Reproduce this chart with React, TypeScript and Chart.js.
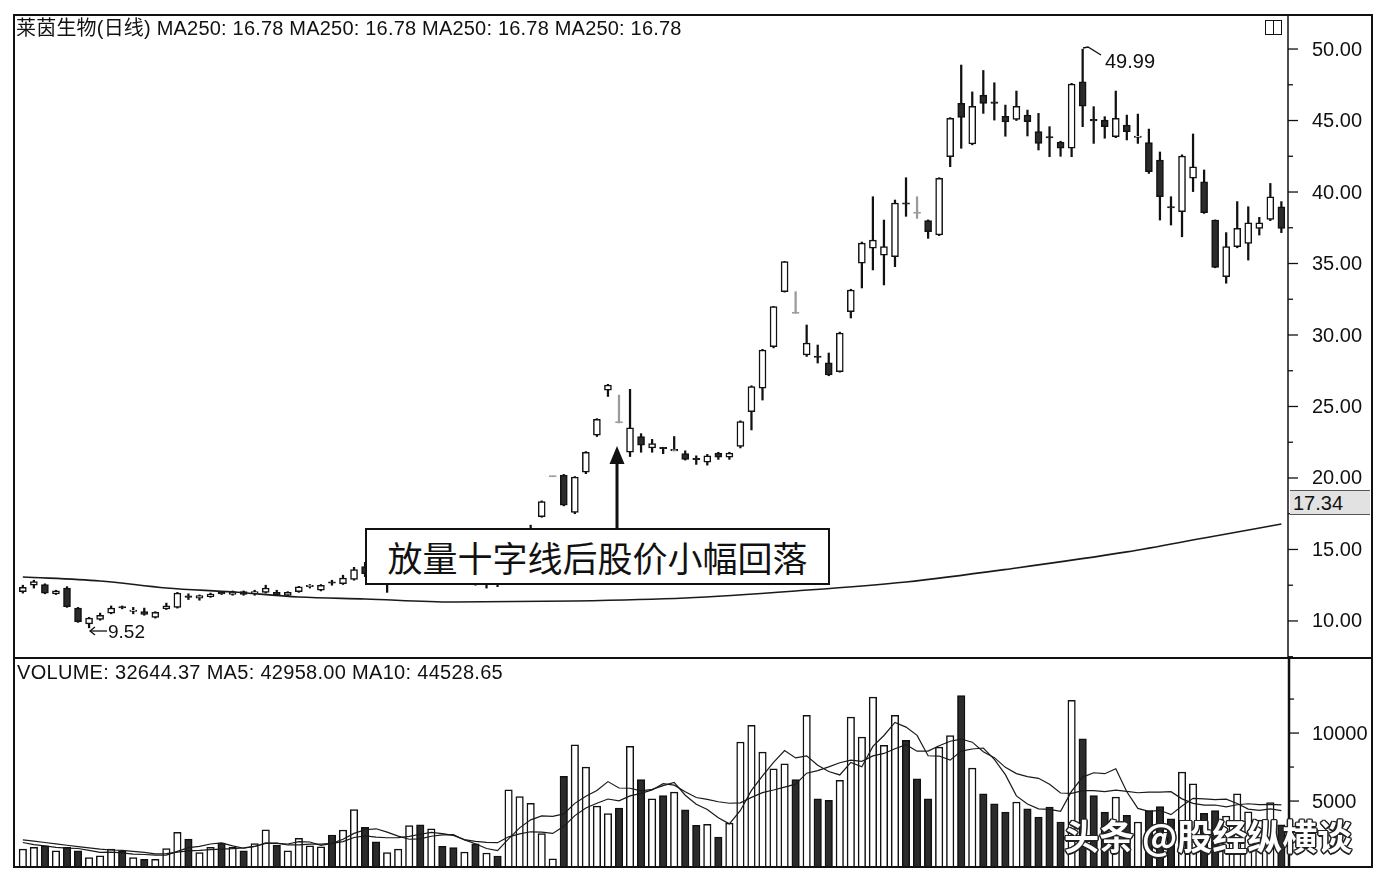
import React, { useEffect, useRef } from "react";
import { Chart, registerables } from "chart.js";
Chart.register(...registerables);

// ---------- data ----------
const dayIndex: number[] = Array.from({ length: 115 }, (_, i) => i);

const opens = [
  12.05, 12.5, 12.55, 11.9, 12.3, 10.9, 9.8, 10.1, 10.55, 11.0,
  10.7, 10.65, 10.25, 10.85, 10.95, 11.72, 11.6, 11.7, 11.97, 11.85,
  12.05, 11.98, 12.0, 12.0, 11.78, 12.05, 12.43, 12.15, 12.72, 12.6,
  12.9, 13.8, 13.3, 12.7, 13.0, 13.3, 14.0, 13.5, 14.0, 13.6,
  13.2, 13.4, 12.9, 13.1, 12.9, 14.1, 15.4, 17.3, 20.1, 20.2,
  17.6, 20.4, 23.0, 26.15, 23.92, 21.8, 22.9, 22.1, 22.12, 21.93,
  21.7, 21.35, 21.1, 21.75, 21.45, 22.2, 24.64, 26.29, 29.18, 33.03,
  31.58, 28.6, 28.5, 28.06, 27.43, 31.63, 35.03, 36.08, 35.59, 35.48,
  39.22, 38.57, 38.0, 37.0, 42.47, 46.2, 43.36, 46.78, 46.27, 45.3,
  45.08, 45.38, 44.22, 43.85, 43.5, 43.06, 47.7, 45.05, 45.03, 43.87,
  44.68, 43.85, 43.45, 42.24, 38.95, 38.62, 40.96, 40.72, 38.04, 34.08,
  36.18, 36.41, 37.46, 38.09, 38.97,
];
const highs = [
  12.5, 12.85, 12.6, 12.15, 12.4, 10.95, 10.25, 10.55, 11.05, 11.05,
  10.95, 10.9, 10.65, 11.25, 12.0, 11.9, 11.82, 11.95, 12.05, 12.1,
  12.1, 12.15, 12.5, 12.15, 12.05, 12.42, 12.55, 12.55, 12.85, 13.2,
  13.75, 14.1, 13.5, 13.2, 13.5, 14.3, 14.4, 14.3, 14.1, 13.7,
  13.6, 13.5, 13.3, 13.2, 14.3, 15.6, 16.7, 18.4, 20.14, 20.25,
  20.1, 21.85, 24.15, 26.55, 25.8, 26.2, 23.1, 22.7, 22.15, 22.9,
  21.9, 21.55, 21.65, 21.8, 21.8, 24.0, 26.45, 29.0, 32.0, 35.15,
  33.03, 30.7, 29.3, 28.74, 30.2, 33.2, 36.5, 39.67, 38.04, 39.44,
  41.0, 39.67, 38.05, 41.0, 45.2, 48.88, 47.0, 48.5, 47.64, 46.08,
  47.06, 45.73, 45.5, 44.57, 43.55, 47.6, 49.99, 45.97, 45.27, 47.06,
  45.38, 45.45, 44.4, 42.8, 39.67, 42.6, 44.06, 41.54, 38.05, 37.16,
  39.33, 38.97, 38.23, 40.6, 39.33,
];
const lows = [
  11.95, 12.3, 11.9, 11.85, 10.95, 9.9, 9.52, 10.05, 10.5, 10.85,
  10.5, 10.4, 10.2, 10.8, 10.9, 11.5, 11.45, 11.65, 11.85, 11.8,
  11.8, 11.8, 11.95, 11.8, 11.72, 12.0, 12.3, 12.1, 12.5, 12.55,
  12.85, 13.1, 12.7, 12.0, 12.9, 13.2, 13.3, 13.4, 13.4, 13.0,
  13.0, 12.5, 12.3, 12.4, 12.8, 14.0, 15.3, 17.25, 20.1, 18.05,
  17.5, 20.3, 22.9, 25.7, 23.85, 21.5, 21.8, 21.8, 21.7, 21.9,
  21.25, 20.95, 20.9, 21.3, 21.3, 22.1, 23.36, 25.45, 29.1, 33.0,
  31.52, 28.5, 28.04, 27.15, 27.4, 31.19, 33.29, 34.55, 33.5, 34.78,
  38.3, 38.15, 36.76, 36.95, 41.77, 43.06, 43.3, 45.5, 45.03, 43.9,
  45.0, 43.92, 42.94, 42.47, 42.5, 42.47, 44.57, 43.4, 43.76, 43.8,
  43.64, 43.4, 41.3, 38.04, 37.69, 36.87, 40.03, 38.5, 34.7, 33.62,
  36.1, 35.24, 36.99, 38.0, 37.16,
];
const closes = [
  12.35, 12.75, 11.95, 12.1, 11.0, 9.95, 10.2, 10.4, 10.9, 10.92,
  10.74, 10.45, 10.6, 11.05, 11.95, 11.68, 11.78, 11.88, 11.93, 12.05,
  11.85, 12.02, 12.3, 11.82, 12.0, 12.38, 12.47, 12.5, 12.66, 13.0,
  13.6, 13.3, 12.9, 13.0, 13.3, 14.0, 13.5, 14.0, 13.6, 13.2,
  13.4, 13.0, 13.1, 12.8, 14.1, 15.4, 16.4, 18.35, 20.14, 18.1,
  20.07, 21.8, 24.1, 26.5, 23.88, 23.5, 22.3, 22.4, 22.08, 21.97,
  21.3, 21.3, 21.55, 21.45, 21.75, 23.94, 26.4, 28.95, 31.98, 35.13,
  31.54, 29.44, 28.46, 27.2, 30.14, 33.15, 36.43, 36.64, 36.18, 39.23,
  39.18, 38.53, 37.23, 40.96, 45.15, 45.22, 46.0, 46.2, 46.23, 44.9,
  46.0, 44.92, 43.4, 43.81, 43.06, 47.55, 46.0, 45.01, 44.57, 45.15,
  44.22, 43.89, 41.42, 39.67, 38.91, 42.52, 41.77, 38.55, 34.73, 36.18,
  37.46, 37.85, 37.85, 39.67, 37.46,
];
// candles printed as thin grey marks in the reference
const greyCandles = [48, 54, 70, 81];

const volumes = [
  1460, 1590, 1710, 1340, 1590, 1340, 850, 970, 1460, 1340,
  850, 720, 720, 1510, 2700, 2200, 1210, 1590, 1900, 1590,
  1340, 1880, 2890, 1760, 1340, 2250, 1710, 1630, 2500, 2870,
  4370, 3070, 2010, 1210, 1460, 3190, 3250, 2960, 1670, 1570,
  1250, 1860, 1180, 960, 5830, 5320, 4830, 2600, 760, 6810,
  9140, 7500, 4630, 4070, 4480, 9020, 6570, 5170, 5410, 5660,
  4360, 3210, 3280, 2350, 3380, 9340, 10560, 8600, 7370, 7740,
  6570, 11300, 5170, 5050, 6520, 11170, 9700, 12640, 9090, 11300,
  9460, 6640, 5170, 8970, 9820, 12760, 7420, 5540, 4800, 4190,
  4930, 4430, 3820, 4560, 3460, 12400, 9580, 5410, 4190, 5290,
  3950, 3460, 4300, 4600, 3700, 7130, 6270, 4100, 4300, 3900,
  5540, 4200, 3600, 4880, 3260,
];
const volMA5 = [
  1950, 1800, 1700, 1600, 1540, 1510, 1370, 1220, 1240, 1190,
  1090, 1070, 1020, 1030, 1300, 1570, 1670, 1840, 1920, 1700,
  1530, 1660, 1920, 1890, 1840, 2020, 1990, 1740, 1890, 2190,
  2620, 2890, 2960, 2710, 2420, 2190, 2220, 2410, 2510, 2530,
  2140, 1860, 1510, 1360, 2220, 3030, 3620, 3910, 3870, 4060,
  4830, 5360, 5770, 6430, 5960, 5940, 5750, 5860, 6130, 6370,
  5430, 4760, 4380, 3770, 3320, 4310, 5780, 6850, 7850, 8720,
  8170, 8320, 7630, 7170, 6920, 7840, 7520, 9020, 9820, 10780,
  10440, 9830, 8330, 8310, 8010, 8670, 8830, 8900, 8070, 6940,
  5380, 4780, 4430, 4390, 4240, 5730, 6760, 7080, 7010, 7370,
  5680, 4460, 4240, 4320, 4000, 4640, 5200, 5160, 5100, 5140,
  4820, 4410, 4310, 4420, 4300,
];
const volMA10 = [
  2150, 2050, 1950, 1850, 1750, 1650, 1560, 1470, 1400, 1370,
  1300, 1220, 1120, 1140, 1250, 1330, 1370, 1430, 1470, 1500,
  1550, 1660, 1880, 1910, 1770, 1780, 1830, 1830, 1890, 2020,
  2320, 2440, 2350, 2300, 2310, 2400, 2560, 2690, 2610, 2480,
  2160, 2040, 1960, 1940, 2370, 2590, 2740, 2710, 2620, 3140,
  3930, 4490, 4840, 5150, 5010, 5380, 5560, 5820, 6280, 6170,
  5690, 5260, 5120, 4950, 4840, 4870, 5270, 5620, 5810, 6020,
  6240, 7050, 7240, 7510, 7820, 8010, 7920, 8320, 8500, 8850,
  9140, 8670, 8670, 9070, 9400, 9560, 9330, 8620, 8190, 7480,
  7020, 6800, 6670, 6230, 5590, 5560, 5770, 5760, 5700, 5810,
  5710, 5610, 5660, 5660, 5690, 5160, 4830, 4700, 4710, 4570,
  4730, 4800, 4730, 4760, 4720,
];
// MA250 read at these candles
const ma250Index = [0, 7, 13, 19, 25, 31, 39, 50, 60, 70, 80, 90, 100, 107, 114];
const ma250Value = [13.08, 12.8, 12.31, 12.03, 11.68, 11.54, 11.33, 11.4, 11.61, 12.1, 12.73, 13.71, 14.83, 15.8, 16.78];

const priceTickValues = [7.5, 10, 12.5, 15, 17.5, 20, 22.5, 25, 27.5, 30, 32.5, 35, 37.5, 40, 42.5, 45, 47.5, 50];
const priceLabelValues = [10, 15, 20, 25, 30, 35, 40, 45, 50];
const volTickValues = [2500, 5000, 7500, 10000, 12500];
const volLabelValues = [5000, 10000];

// ---------- styling ----------
const W = 1384;
const H = 882;
const AXIS_W = 84;
const FONT = "'Liberation Sans', Arial, 'Noto Sans CJK SC', sans-serif";
const INK = "#111";
const DARK = "#2b2b2b";
const GREY = "#9a9a9a";
const MAJOR_TICK = 10;
const MINOR_TICK = 5;
const LABEL_X = 24;
const AXIS_FONT = 20;

const framePlugin = {
  id: "frame",
  afterDraw(chart: any) {
    const { ctx, chartArea, scales } = chart;
    const yP = scales.y;
    const yV = scales.yv;
    const L = chartArea.left;
    const R = chartArea.right;
    const T = chartArea.top;
    const B = chartArea.bottom;
    const OR = R + AXIS_W;
    ctx.save();
    ctx.strokeStyle = INK;
    ctx.lineWidth = 2;
    ctx.strokeRect(L, T, OR - L, B - T);
    ctx.beginPath();
    ctx.lineWidth = 1.5;
    ctx.moveTo(R, T);
    ctx.lineTo(R, yP.bottom);
    ctx.stroke();
    ctx.beginPath();
    ctx.lineWidth = 2.5;
    ctx.moveTo(R + 1, yV.top);
    ctx.lineTo(R + 1, B);
    ctx.stroke();
    ctx.beginPath();
    ctx.lineWidth = 2;
    ctx.moveTo(L, yP.bottom);
    ctx.lineTo(OR, yP.bottom);
    ctx.stroke();

    // axis tick marks and labels, placed through the chart's scales
    ctx.lineWidth = 1.3;
    ctx.fillStyle = INK;
    ctx.font = `${AXIS_FONT}px ${FONT}`;
    ctx.textBaseline = "middle";
    ctx.textAlign = "left";
    const drawAxis = (scale: any, ticks: number[], labels: number[], fmt: (v: number) => string, x0: number) => {
      for (const v of ticks) {
        const py = scale.getPixelForValue(v);
        const major = labels.includes(v);
        ctx.beginPath();
        ctx.moveTo(x0, py);
        ctx.lineTo(x0 + (major ? MAJOR_TICK : MINOR_TICK), py);
        ctx.stroke();
        if (major) ctx.fillText(fmt(v), R + LABEL_X, py + 1);
      }
    };
    drawAxis(yP, priceTickValues, priceLabelValues, (v) => v.toFixed(2), R);
    drawAxis(yV, volTickValues, volLabelValues, (v) => String(v), R + 1);
    ctx.restore();
  },
};

const fitAxis = (s: any) => {
  s.width = AXIS_W;
  s.paddingTop = 0;
  s.paddingBottom = 0;
};

export default function App() {
  const canvasRef = useRef<HTMLCanvasElement | null>(null);

  useEffect(() => {
    const canvas = canvasRef.current;
    if (!canvas) return;
    const isGrey = (i: number) => greyCandles.includes(i);
    const isDown = (i: number) => closes[i] < opens[i];

    const wickData = dayIndex.map((i) => ({ x: i, y: [lows[i], highs[i]] }));
    const bodyData = dayIndex.map((i) => {
      let a = opens[i];
      let b = closes[i];
      if (Math.abs(b - a) < 0.1) {
        const m = (a + b) / 2;
        a = m - 0.05;
        b = m + 0.05;
      }
      return { x: i, y: [a, b] };
    });
    const volData = dayIndex.map((i) => ({ x: i, y: volumes[i] }));

    const chart = new Chart(canvas, {
      type: "bar",
      data: {
        datasets: [
          {
            type: "bar",
            label: "wick",
            data: wickData as any,
            yAxisID: "y",
            xAxisID: "x",
            grouped: false,
            barThickness: 1.6,
            backgroundColor: dayIndex.map((i) => (isGrey(i) ? GREY : INK)),
            borderWidth: 0,
            order: 4,
          },
          {
            type: "bar",
            label: "body",
            data: bodyData as any,
            yAxisID: "y",
            xAxisID: "x",
            grouped: false,
            barThickness: 7,
            backgroundColor: dayIndex.map((i) => (isGrey(i) ? GREY : isDown(i) ? DARK : "#ffffff")),
            borderColor: dayIndex.map((i) => (isGrey(i) ? GREY : INK)),
            borderWidth: 1.5,
            borderSkipped: false,
            order: 3,
          },
          {
            type: "line",
            label: "MA250",
            data: ma250Index.map((d, k) => ({ x: d, y: ma250Value[k] })) as any,
            yAxisID: "y",
            xAxisID: "x",
            borderColor: "#1a1a1a",
            borderWidth: 1.6,
            pointRadius: 0,
            cubicInterpolationMode: "monotone",
            order: 2,
          },
          {
            type: "bar",
            label: "VOLUME",
            data: volData as any,
            yAxisID: "yv",
            xAxisID: "x",
            grouped: false,
            barThickness: 7.5,
            backgroundColor: dayIndex.map((i) => (isDown(i) ? DARK : "#ffffff")),
            borderColor: INK,
            borderWidth: 1.5,
            borderSkipped: false,
            order: 3,
          },
          {
            type: "line",
            label: "MA5",
            data: dayIndex.map((i) => ({ x: i, y: volMA5[i] })) as any,
            yAxisID: "yv",
            xAxisID: "x",
            borderColor: "#1a1a1a",
            borderWidth: 1.2,
            pointRadius: 0,
            tension: 0,
            order: 1,
          },
          {
            type: "line",
            label: "MA10",
            data: dayIndex.map((i) => ({ x: i, y: volMA10[i] })) as any,
            yAxisID: "yv",
            xAxisID: "x",
            borderColor: "#1a1a1a",
            borderWidth: 1.2,
            pointRadius: 0,
            tension: 0,
            order: 1,
          },
        ],
      },
      options: {
        responsive: false,
        animation: false,
        events: [],
        layout: { padding: { left: 14, right: 12, top: 15, bottom: 15 } },
        plugins: { legend: { display: false }, tooltip: { enabled: false } },
        scales: {
          x: {
            type: "linear",
            display: false,
            offset: false,
            grid: { offset: false },
            min: -0.8,
            max: 114.6,
          },
          y: {
            type: "linear",
            axis: "y",
            position: "right",
            stack: "main",
            stackWeight: 643,
            min: 7.41,
            max: 52.38,
            afterFit: fitAxis,
            border: { display: false },
            grid: { drawOnChartArea: false, drawTicks: false },
            ticks: { display: false },
          },
          yv: {
            type: "linear",
            axis: "y",
            position: "right",
            stack: "main",
            stackWeight: 209,
            min: 150,
            max: 15520,
            afterFit: fitAxis,
            border: { display: false },
            grid: { drawOnChartArea: false, drawTicks: false },
            ticks: { display: false },
          },
        },
      },
      plugins: [framePlugin],
    } as any);

    return () => {
      chart.destroy();
    };
  }, []);

  const abs = (o: React.CSSProperties): React.CSSProperties => ({ position: "absolute", ...o });

  return (
    <div style={abs({ left: 0, top: 0, width: W, height: H, background: "#fff", overflow: "hidden", fontFamily: FONT, color: INK })}>
      <canvas ref={canvasRef} width={W} height={H} style={abs({ left: 0, top: 0, width: W, height: H })} />

      <div style={abs({ left: 16, top: 18, fontSize: 20, lineHeight: "20px", letterSpacing: "0.2px", whiteSpace: "pre" })}>
        莱茵生物(日线) MA250: 16.78 MA250: 16.78 MA250: 16.78 MA250: 16.78
      </div>
      <div style={abs({ left: 17, top: 662, fontSize: 20, lineHeight: "20px", letterSpacing: "0.3px", whiteSpace: "pre" })}>
        VOLUME: 32644.37 MA5: 42958.00 MA10: 44528.65
      </div>

      {/* small window icon, top right */}
      <div style={abs({ left: 1265, top: 20, width: 15, height: 13, border: "1.5px solid #111" })}>
        <div style={abs({ left: 7, top: 0, width: 0, height: 13, borderLeft: "1.5px solid #111" })} />
      </div>

      {/* current value box on axis */}
      <div style={abs({ left: 1290, top: 490, width: 80, height: 25, background: "#e2e2e2", borderTop: "1px solid #555", borderBottom: "1px solid #555", fontSize: 20, lineHeight: "25px", paddingLeft: 3, boxSizing: "border-box" })}>
        17.34
      </div>

      <svg width={W} height={H} style={abs({ left: 0, top: 0, pointerEvents: "none" })}>
        {/* arrow to the cross candle */}
        <line x1={617} y1={528} x2={617} y2={460} stroke="#111" strokeWidth={3} />
        <polygon points="617,446 609.5,464 624.5,464" fill="#111" />
        {/* 49.99 pointer */}
        <polyline points="1083,48 1088,47 1101,55" fill="none" stroke="#111" strokeWidth={1.3} />
        {/* 9.52 pointer */}
        <line x1={90} y1={631} x2={107} y2={631} stroke="#111" strokeWidth={1.3} />
        <polyline points="95,627 90,631 95,635" fill="none" stroke="#111" strokeWidth={1.3} />
      </svg>

      <div style={abs({ left: 1105, top: 51, fontSize: 20, lineHeight: "20px" })}>49.99</div>
      <div style={abs({ left: 108, top: 622, fontSize: 19, lineHeight: "19px" })}>9.52</div>

      {/* annotation */}
      <div
        style={abs({
          left: 365,
          top: 528,
          width: 465,
          height: 57,
          boxSizing: "border-box",
          border: "2px solid #111",
          background: "#fff",
          display: "flex",
          alignItems: "center",
          justifyContent: "center",
          fontFamily: "'Noto Sans CJK SC', sans-serif",
          fontSize: 35,
          whiteSpace: "nowrap",
        })}
      >
        放量十字线后股价小幅回落
      </div>

      {/* watermark */}
      <div
        style={abs({
          left: 1064,
          top: 813,
          fontFamily: "'Noto Sans CJK SC', sans-serif",
          fontWeight: 700,
          fontSize: 35,
          lineHeight: "44px",
          color: "#fff",
          whiteSpace: "pre",
          textShadow:
            "1.5px 0 0 #222, -1.5px 0 0 #222, 0 1.5px 0 #222, 0 -1.5px 0 #222, 1px 1px 0 #222, -1px -1px 0 #222, 1px -1px 0 #222, -1px 1px 0 #222",
        })}
      >
        头条 @股经纵横谈
      </div>
    </div>
  );
}
